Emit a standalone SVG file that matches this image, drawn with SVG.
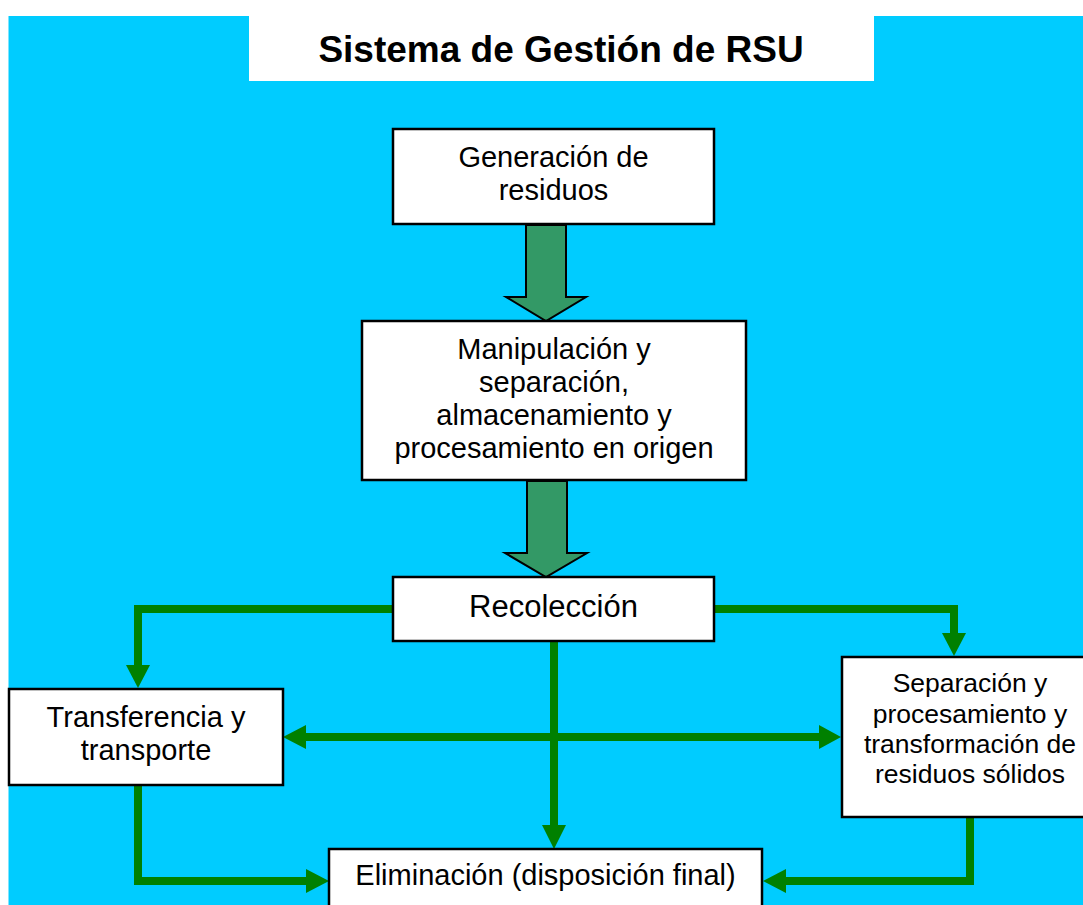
<svg xmlns="http://www.w3.org/2000/svg" width="1083" height="905" viewBox="0 0 1083 905">
<style>
.box{fill:#ffffff;stroke:#000000;stroke-width:2.5}
.t{font-family:"Liberation Sans",Arial,sans-serif;fill:#000000;text-anchor:middle}
.ln{fill:none;stroke:#008000;stroke-width:8;stroke-linejoin:miter}
.hd{fill:#008000}
.blk{fill:#339966;stroke:#000000;stroke-width:2;stroke-linejoin:miter}
</style>
<rect x="0" y="0" width="1083" height="905" fill="#ffffff"/>
<rect x="8.5" y="16" width="1080" height="895" fill="#00ccff"/>
<g id="title">
<rect x="249" y="16" width="625" height="65" fill="#ffffff"/>
<text class="t" x="561" y="62" font-size="37" font-weight="bold">Sistema de Gestión de RSU</text>
</g>
<g id="connectors">
<path class="blk" d="M526,225 L566,225 L566,297 L586,297 L546,321 L506,297 L526,297 Z"/>
<path class="blk" d="M527,481 L567,481 L567,553 L587,553 L546,577 L505,553 L527,553 Z"/>
<path class="ln" d="M393,609 L138,609 L138,667"/>
<polygon class="hd" points="126,665 150,665 138,688"/>
<path class="ln" d="M714,609 L954,609 L954,635"/>
<polygon class="hd" points="942,633 966,633 954,656"/>
<path class="ln" d="M554,641 L554,827"/>
<polygon class="hd" points="542,825 566,825 554,849"/>
<path class="ln" d="M304,737 L821,737"/>
<polygon class="hd" points="283,737 306,725 306,749"/>
<polygon class="hd" points="841,737 819,725 819,749"/>
<path class="ln" d="M138,785 L138,881 L308,881"/>
<polygon class="hd" points="329,881 306,869 306,893"/>
<path class="ln" d="M970,817 L970,881 L783,881"/>
<polygon class="hd" points="763,881 786,869 786,893"/>
</g>
<g id="generacion">
<rect class="box" x="393" y="129" width="321" height="95"/>
<text class="t" x="553.5" y="166.5" font-size="29">Generación de</text>
<text class="t" x="553.5" y="199.5" font-size="29">residuos</text>
</g>
<g id="manipulacion">
<rect class="box" x="362" y="321" width="384" height="159"/>
<text class="t" x="554" y="359" font-size="29">Manipulación y</text>
<text class="t" x="554" y="392" font-size="29">separación,</text>
<text class="t" x="554" y="425" font-size="29">almacenamiento y</text>
<text class="t" x="554" y="458" font-size="29">procesamiento en origen</text>
</g>
<g id="recoleccion">
<rect class="box" x="393" y="577" width="321" height="64"/>
<text class="t" x="553.5" y="617" font-size="31">Recolección</text>
</g>
<g id="transferencia">
<rect class="box" x="9" y="689" width="274" height="96"/>
<text class="t" x="146" y="727" font-size="29">Transferencia y</text>
<text class="t" x="146" y="760" font-size="29">transporte</text>
</g>
<g id="separacion">
<rect class="box" x="842" y="657" width="256" height="160"/>
<text class="t" x="970" y="692" font-size="26.5">Separación y</text>
<text class="t" x="970" y="722.5" font-size="26.5">procesamiento y</text>
<text class="t" x="970" y="752.5" font-size="26.5">transformación de</text>
<text class="t" x="970" y="782.5" font-size="26.5">residuos sólidos</text>
</g>
<g id="eliminacion">
<rect class="box" x="329" y="849" width="433" height="70"/>
<text class="t" x="545.5" y="885" font-size="29">Eliminación (disposición final)</text>
</g>
</svg>
